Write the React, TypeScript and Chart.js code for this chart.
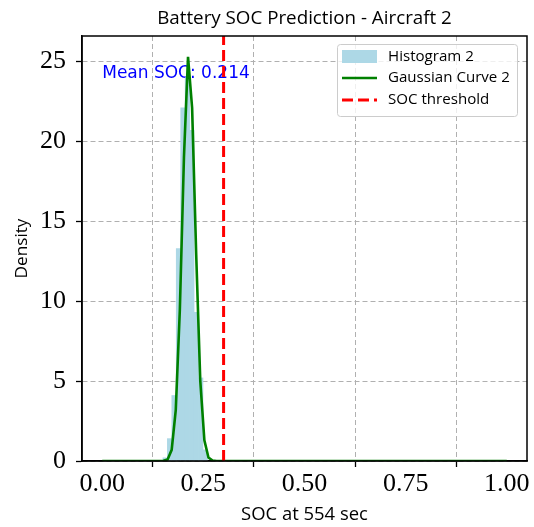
import React, { useEffect, useRef } from "react";
import { Chart, registerables } from "chart.js";

Chart.register(...registerables);

// ---- data ----
const histBinCenters = [0.1555, 0.1665, 0.1775, 0.1885, 0.1995, 0.2105, 0.2215, 0.2325, 0.2435, 0.2545];
const histDensity = [0.2, 1.4, 4.1, 13.3, 22.1, 24.0, 20.7, 9.3, 5.2, 0.7];

const gaussX = [0.0, 0.1313, 0.1414, 0.1515, 0.1616, 0.1717, 0.1818, 0.1919, 0.202, 0.2121, 0.2222, 0.2323, 0.2424, 0.2525, 0.2626, 0.2727, 0.2828, 1.0];
const gaussY = [0.0, 0.0, 0.0, 0.01, 0.1, 0.7, 3.2, 9.5, 19.0, 25.3, 22.1, 12.9, 5.0, 1.3, 0.22, 0.03, 0.0, 0.0];

const socThreshold = 0.3;
const meanSoc = 0.214;
const meanTextPos = [0.0, 24.0];

const xTicks = [0.0, 0.25, 0.5, 0.75, 1.0];
const yTicks = [0, 5, 10, 15, 20, 25];
const xRange = [-0.05, 1.05];
const yRange = [0, 26.6];

const titleText = "Battery SOC Prediction - Aircraft 2";
const xLabel = "SOC at 554 sec";
const yLabel = "Density";
const legendLabels = ["Histogram 2", "Gaussian Curve 2", "SOC threshold"];

const HIST_COLOR = "#add8e6";
const SANS = "'Open Sans', 'DejaVu Sans', sans-serif";
const SERIF = "'Liberation Serif', serif";

function fitFont(ctx: CanvasRenderingContext2D, text: string, family: string, target: number) {
  ctx.font = `20px ${family}`;
  const w = ctx.measureText(text).width;
  const size = (20 * target) / w;
  ctx.font = `${size}px ${family}`;
}

export default function App() {
  const ref = useRef<HTMLCanvasElement | null>(null);

  useEffect(() => {
    document.body.style.margin = "0";
    const canvas = ref.current!;
    const decor = {
      id: "decor",
      beforeDatasetsDraw(chart: any) {
        const { ctx, scales } = chart;
        ctx.save();
        ctx.fillStyle = "#0000ff";
        ctx.font = `17px 'DejaVu Sans', sans-serif`;
        ctx.textAlign = "left";
        ctx.textBaseline = "alphabetic";
        ctx.fillText(
          `Mean SOC: ${meanSoc.toFixed(3)}`,
          scales.x.getPixelForValue(meanTextPos[0]),
          scales.y.getPixelForValue(meanTextPos[1])
        );
        ctx.restore();
      },
      afterDraw(chart: any) {
        const { ctx, chartArea: a } = chart;
        ctx.save();
        // frame
        ctx.strokeStyle = "#000";
        ctx.lineWidth = 1.5;
        ctx.strokeRect(a.left, a.top, a.right - a.left, a.bottom - a.top);
        // title
        ctx.fillStyle = "#000";
        ctx.textAlign = "center";
        ctx.textBaseline = "middle";
        fitFont(ctx, titleText, SANS, 295);
        ctx.fillText(titleText, (a.left + a.right) / 2, 19);
        // axis labels
        fitFont(ctx, xLabel, SANS, 127);
        ctx.fillText(xLabel, (a.left + a.right) / 2, 515);
        ctx.save();
        ctx.translate(22, (a.top + a.bottom) / 2);
        ctx.rotate(-Math.PI / 2);
        fitFont(ctx, yLabel, SANS, 60);
        ctx.fillText(yLabel, 0, 0);
        ctx.restore();
        // legend
        const lx = 337, ly = 44, lw = 180, lh = 72;
        ctx.fillStyle = "rgba(255,255,255,0.8)";
        ctx.strokeStyle = "#cccccc";
        ctx.lineWidth = 1;
        ctx.beginPath();
        (ctx as any).roundRect(lx + 0.5, ly + 0.5, lw, lh, 3);
        ctx.fill();
        ctx.stroke();
        const rows = [57, 78, 100];
        ctx.fillStyle = HIST_COLOR;
        ctx.fillRect(342, 50, 35, 13);
        ctx.strokeStyle = "green";
        ctx.lineWidth = 2.4;
        ctx.beginPath();
        ctx.moveTo(342, rows[1]);
        ctx.lineTo(377, rows[1]);
        ctx.stroke();
        ctx.strokeStyle = "#ff0000";
        ctx.lineWidth = 3;
        ctx.setLineDash([11, 5]);
        ctx.beginPath();
        ctx.moveTo(342, rows[2]);
        ctx.lineTo(377, rows[2]);
        ctx.stroke();
        ctx.setLineDash([]);
        ctx.fillStyle = "#000";
        ctx.textAlign = "left";
        fitFont(ctx, legendLabels[1], SANS, 122);
        legendLabels.forEach((t, i) => ctx.fillText(t, 388, rows[i]));
        ctx.restore();
      },
    };

    const gridCommon: any = {
      color: "#b0b0b0",
      lineWidth: 1,
      tickColor: "#000",
      tickLength: 6,
      tickWidth: 1.3,
      tickBorderDash: [],
    };

    const chart = new Chart(canvas, {
      type: "bar",
      data: {
        datasets: [
          {
            type: "bar",
            label: legendLabels[0],
            data: histBinCenters.map((x, i) => ({ x, y: histDensity[i] })),
            backgroundColor: HIST_COLOR,
            borderWidth: 0,
            categoryPercentage: 1,
            barPercentage: 1,
            order: 3,
          } as any,
          {
            type: "line",
            label: legendLabels[1],
            data: gaussX.map((x, i) => ({ x, y: gaussY[i] })),
            borderColor: "green",
            borderWidth: 2.6,
            pointRadius: 0,
            tension: 0,
            order: 2,
          },
          {
            type: "line",
            label: legendLabels[2],
            data: [
              { x: socThreshold, y: yRange[0] },
              { x: socThreshold, y: yRange[1] },
            ],
            borderColor: "#ff0000",
            borderWidth: 3,
            borderDash: [11, 5],
            pointRadius: 0,
            order: 1,
          },
        ],
      },
      options: {
        animation: false,
        responsive: false,
        layout: { padding: { top: 36, right: 7, left: 0, bottom: 0 } },
        plugins: { legend: { display: false }, tooltip: { enabled: false }, title: { display: false } },
        scales: {
          x: {
            type: "linear",
            min: xRange[0],
            max: xRange[1],
            offset: false,
            afterBuildTicks: (s: any) => {
              s.ticks = xTicks.map((v) => ({ value: v }));
            },
            afterFit: (s: any) => {
              s.height = 66;
            },
            ticks: {
              callback: (v: any) => Number(v).toFixed(2),
              font: { family: SERIF, size: 26 },
              color: "#000",
              padding: 2,
              maxRotation: 0,
              autoSkip: false,
            },
            grid: gridCommon,
            border: { display: true, color: "#000", width: 1.5, dash: [5, 3] } as any,
          },
          y: {
            type: "linear",
            min: yRange[0],
            max: yRange[1],
            afterBuildTicks: (s: any) => {
              s.ticks = yTicks.map((v) => ({ value: v }));
            },
            afterFit: (s: any) => {
              s.width = 82;
            },
            ticks: {
              font: { family: SERIF, size: 26 },
              color: "#000",
              padding: 10,
              autoSkip: false,
            },
            grid: gridCommon,
            border: { display: true, color: "#000", width: 1.5, dash: [5, 3] } as any,
          },
        },
      },
      plugins: [decor],
    });
    return () => chart.destroy();
  }, []);

  return (
    <div style={{ width: 534, height: 527 }}>
      <canvas ref={ref} width={534} height={527} style={{ display: "block" }} />
    </div>
  );
}
